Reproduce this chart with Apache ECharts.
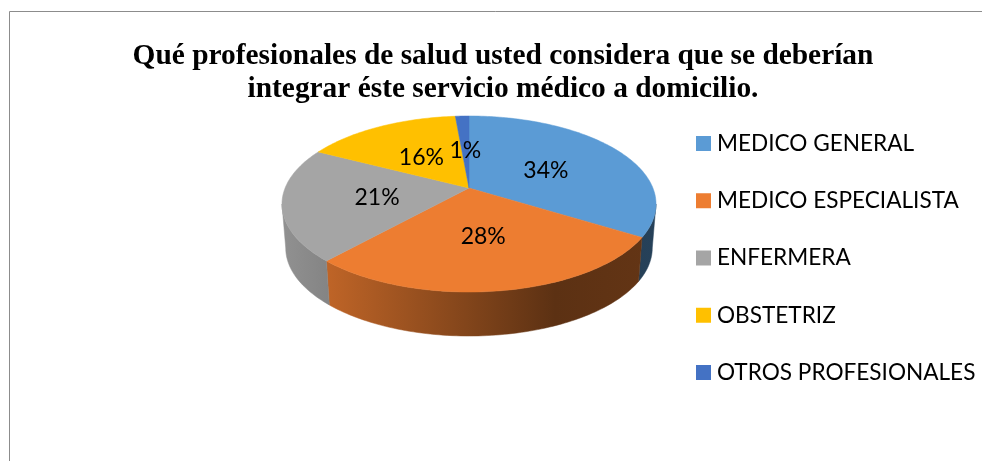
<!DOCTYPE html>
<html><head><meta charset="utf-8">
<style>html,body{margin:0;padding:0;background:#fff}#c{width:982px;height:461px}</style>
<script src="https://cdn.jsdelivr.net/npm/echarts@6/dist/echarts.min.js"></script>
</head><body><div id="c"></div>
<script>
const categories = ['MEDICO GENERAL','MEDICO ESPECIALISTA','ENFERMERA','OBSTETRIZ','OTROS PROFESIONALES'];
const values = [33.8, 27.9, 20.9, 16.0, 1.4];
const colors = ['#5B9BD5','#ED7D31','#A5A5A5','#FFC000','#4472C4'];
const titleLines = ['Qué profesionales de salud usted considera que se deberían','integrar éste servicio médico a domicilio.'];

const total = values.reduce((a,b)=>a+b,0);
const cum = []; values.reduce((a,b,i)=>(cum[i]=a,a+b),0);

// perspective view of a circular disc
const view = {x:469, y:188, a:183.9, b:85.1, k:0.1818, depth:44, shrink:0.98};
const frontStart = Math.acos(-view.k), frontEnd = 2*Math.PI - frontStart;
function project(theta, r, lower){
  const u = Math.sin(theta)*r, v = -Math.cos(theta)*r, d = 1 - view.k*v;
  const x = view.a*u/d, y = view.b*v/d;
  return lower ? [view.x + x*view.shrink, view.y + y + view.depth] : [view.x + x, view.y + y];
}
function arc(t0,t1,lower){
  const n = Math.max(2, Math.ceil((t1-t0)/0.02)), pts = [];
  for(let j=0;j<=n;j++) pts.push(project(t0+(t1-t0)*j/n,1,lower));
  return pts;
}
function shade(hex,f){
  const n = parseInt(hex.slice(1),16);
  const c = [n>>16,(n>>8)&255,n&255].map(v=>Math.round(v*f));
  return 'rgb('+c.join(',')+')';
}
const sideStops = [[0,0.88],[0.125,0.8],[0.73,0.39],[1,0.42]];

function renderSlice(i){
  return function(params, api){
    const t0 = cum[i]/total*2*Math.PI, t1 = (cum[i]+values[i])/total*2*Math.PI;
    const top = arc(t0,t1,false);
    const mid = project((t0+t1)/2,0.5,false);
    const grad = new echarts.graphic.LinearGradient(view.x-187,0,view.x+187,0,
      sideStops.map(s=>({offset:s[0],color:shade(colors[i],s[1])})),true);
    const children = [];
    const f0 = Math.max(t0,frontStart), f1 = Math.min(t1,frontEnd);
    if(f1 > f0){
      const wall = arc(f0,f1,false).concat(arc(f0,f1,true).reverse());
      children.push({type:'polygon',z2:1,shape:{points:wall},style:{fill:grad,stroke:grad,lineWidth:0.5}});
    }
    children.push(
      {type:'polygon',z2:5,shape:{points:[[view.x,view.y]].concat(top)},style:{fill:colors[i],stroke:colors[i],lineWidth:0.5}},
      {type:'text',z2:10,style:{x:mid[0],y:mid[1]+2,text:Math.round(values[i]/total*100)+'%',
        fill:'#000',font:'23px Lato',align:'center',verticalAlign:'middle'}}
    );
    return {type:'group',silent:true,children};
  };
}

const chart = echarts.init(document.getElementById('c'),null,{renderer:'canvas'});
chart.setOption({
  animation:false,
  backgroundColor:'#fff',
  title:{text:titleLines.join('\n'),left:498,top:35,textAlign:'center',
    textStyle:{fontFamily:'Liberation Serif',fontWeight:'bold',fontSize:29.4,lineHeight:33,color:'#000'}},
  legend:{orient:'vertical',left:691,top:126,icon:'rect',itemWidth:15,itemHeight:15,itemGap:32.25,
    data:categories,selectedMode:false,
    textStyle:{fontFamily:'Lato',fontSize:22.6,color:'#000',padding:[0,0,0,1],height:25,lineHeight:25}},
  graphic:[{type:'polyline',silent:true,shape:{points:[[9.5,461],[9.5,11.5],[982,11.5]]},
    style:{stroke:'#8c8c8c',lineWidth:1,fill:null}}],
  series:categories.map((name,i)=>({
    type:'custom',name,coordinateSystem:'none',silent:true,
    itemStyle:{color:colors[i]},data:[values[i]],renderItem:renderSlice(i)
  }))
});
</script></body></html>
